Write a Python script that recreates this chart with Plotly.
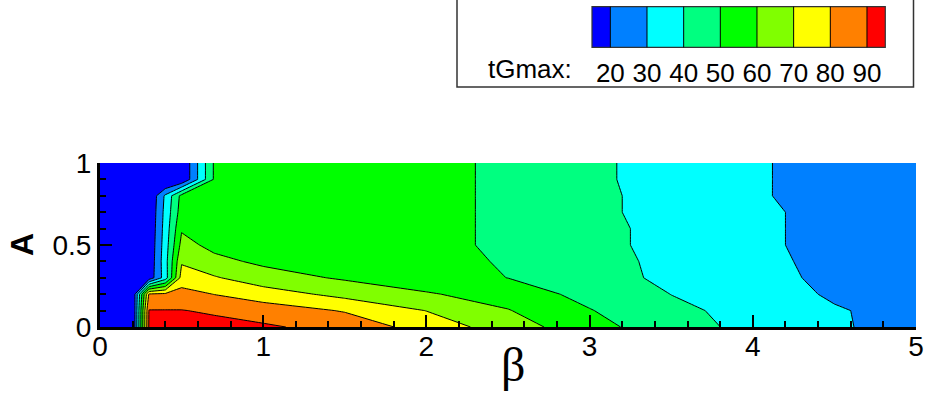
import plotly.graph_objects as go

# Grid of the parameter study
beta = [0, 0.2, 0.3, 0.4, 0.5, 0.7, 1.0, 1.5, 2.0, 2.5, 3.0, 3.5, 4.0, 4.5, 5.0]
amp = [0, 0.1, 0.2, 0.3, 0.4, 0.5, 0.6, 0.7, 0.8, 0.9, 1.0]

# tGmax sampled on the (A, beta) grid: one row per A value
tgmax_a00 = [3, 8.6, 91, 92, 94, 93, 91.5, 86.1, 76, 64.9, 53.8, 43.8, 37.5, 31.5, 25.25]
tgmax_a01 = [3, 8.6, 90.4, 90.4, 90.3, 88.8, 85, 79.3, 69.8, 60.5, 50.5, 42, 37.2, 31, 26]
tgmax_a02 = [3, 10, 81, 82, 84, 79.8, 75, 66.9, 61, 55.5, 46.9, 39.9, 36, 28.5, 24]
tgmax_a03 = [3, 5, 13.4, 35, 74, 71, 64.1, 58.8, 54, 49.9, 45.5, 37.2, 35, 26.7, 23]
tgmax_a04 = [3, 5, 12, 36, 69, 62.5, 58.2, 57, 53.5, 49, 45, 36.7, 34.5, 25.5, 22.5]
tgmax_a05 = [3, 5, 11.5, 35, 63, 57.5, 57, 56, 53, 48, 44.5, 35.5, 34, 24, 22]
tgmax_a06 = [3, 5, 11, 34, 59, 57, 56.5, 55.5, 53, 48, 44, 36, 33.5, 24.75, 22]
tgmax_a07 = [3, 5, 10.5, 33, 54.9, 56, 56, 55, 53, 48, 43.5, 34.75, 33, 25.5, 22]
tgmax_a08 = [3, 5, 9.9, 31.7, 53, 56, 55.5, 54.5, 53, 48, 43.5, 34.75, 32.5, 22.1, 21.5]
tgmax_a09 = [3, 5, 3, 5, 9.6, 51.2, 55, 54, 53, 48, 43, 34, 32, 23.7, 21.5]
tgmax_a10 = [3, 5, 3, 5, 9.6, 51.2, 55, 54, 53, 48, 43, 34, 32, 23.7, 21.5]

tgmax = [tgmax_a00, tgmax_a01, tgmax_a02, tgmax_a03, tgmax_a04, tgmax_a05,
         tgmax_a06, tgmax_a07, tgmax_a08, tgmax_a09, tgmax_a10]

levels = [20, 30, 40, 50, 60, 70, 80, 90]
band_colors = ["#0000ff", "#0080ff", "#00ffff", "#00ff80", "#00ff00",
               "#80ff00", "#ffff00", "#ff8000", "#ff0000"]
x_ticks = [0, 1, 2, 3, 4, 5]
y_ticks = [0, 0.5, 1]
y_ticktext = ["0", "0.5", "1"]

step = levels[1] - levels[0]
colorscale = [[i / (len(band_colors) - 1), c] for i, c in enumerate(band_colors)]
# legend key: half-width end bands, full bands between the levels
key_edges = [levels[0] - step / 2] + levels + [levels[-1] + step / 2]
key_values = [levels[0] - step / 2] + [lv + step / 2 for lv in levels]

W, H = 927, 398


def fx(p):
    return p / W


def fy(p):
    return 1 - p / H


font_family = "Liberation Sans, Arial, sans-serif"

fig = go.Figure()

fig.add_trace(go.Contour(
    x=beta, y=amp, z=tgmax,
    colorscale=colorscale,
    autocontour=False,
    contours=dict(start=levels[0], end=levels[-1], size=step,
                  coloring="fill", showlines=True),
    line=dict(color="black", width=1, smoothing=0),
    showscale=False,
    hoverinfo="skip",
))

# colour key drawn as a one-row heatmap on its own small axes
fig.add_trace(go.Heatmap(
    x=key_edges, y=[0, 1], z=[key_values],
    colorscale=colorscale, zmin=key_values[0], zmax=key_values[-1],
    showscale=False, hoverinfo="skip",
    xaxis="x2", yaxis="y2",
))

axis_common = dict(
    showline=True, linewidth=3, linecolor="black", mirror=False,
    showgrid=False, zeroline=False,
    ticks="inside", ticklen=12, tickwidth=2, tickcolor="black",
    tickfont=dict(family=font_family, size=28, color="black"),
)

fig.update_layout(
    width=W, height=H,
    margin=dict(l=0, r=0, t=0, b=0, autoexpand=False),
    paper_bgcolor="white", plot_bgcolor="white",
    showlegend=False,
    xaxis=dict(domain=[fx(100), fx(916)], range=[0, 5], anchor="y",
               tickmode="array", tickvals=x_ticks, ticklabelstandoff=-8,
               minor=dict(dtick=0.2, ticks="inside", ticklen=6, tickwidth=1.5,
                          tickcolor="black"),
               **axis_common),
    yaxis=dict(domain=[fy(327), fy(163)], range=[0, 1], anchor="x",
               tickmode="array", tickvals=y_ticks, ticktext=y_ticktext,
               minor=dict(dtick=0.1, ticks="inside", ticklen=6, tickwidth=1.5,
                          tickcolor="black"),
               **axis_common),
    xaxis2=dict(domain=[fx(592), fx(885.3)], range=[key_edges[0], key_edges[-1]],
                anchor="y2", showline=False, showgrid=False, zeroline=False,
                tickmode="array", tickvals=levels,
                ticks="outside", ticklen=2, tickcolor="rgba(0,0,0,0)",
                tickfont=dict(family=font_family, size=26, color="black")),
    yaxis2=dict(domain=[fy(47.3), fy(6.7)], range=[0, 1], anchor="x2",
                showline=False, showgrid=False, zeroline=False,
                showticklabels=False, ticks=""),
)

shapes = [
    # frame of the key
    dict(type="rect", xref="paper", yref="paper",
         x0=fx(457), x1=fx(913.5), y0=fy(87), y1=fy(-3),
         line=dict(color="#333333", width=1.5), fillcolor="rgba(0,0,0,0)"),
    # outline of the colour swatches
    dict(type="rect", xref="x2 domain", yref="y2 domain", x0=0, x1=1, y0=0, y1=1,
         line=dict(color="#333333", width=1.2), fillcolor="rgba(0,0,0,0)"),
]
for lv in levels:
    shapes.append(dict(type="line", xref="x2", yref="y2 domain", x0=lv, x1=lv,
                       y0=0, y1=1, line=dict(color="black", width=1)))
fig.update_layout(shapes=shapes)

fig.update_layout(annotations=[
    dict(text="tGmax:", xref="paper", yref="paper", x=fx(574), y=fy(69),
         xanchor="right", yanchor="middle", showarrow=False,
         font=dict(family=font_family, size=26, color="black")),
    dict(text="β", xref="paper", yref="paper", x=fx(512.5), y=fy(364),
         xanchor="center", yanchor="middle", showarrow=False,
         font=dict(family="Liberation Serif, Times New Roman, serif", size=48,
                   color="black")),
    dict(text="<b>A</b>", xref="paper", yref="paper", x=fx(22), y=fy(245),
         xanchor="center", yanchor="middle", showarrow=False, textangle=-90,
         font=dict(family=font_family, size=32, color="black")),
])

fig.write_html("out.html")
